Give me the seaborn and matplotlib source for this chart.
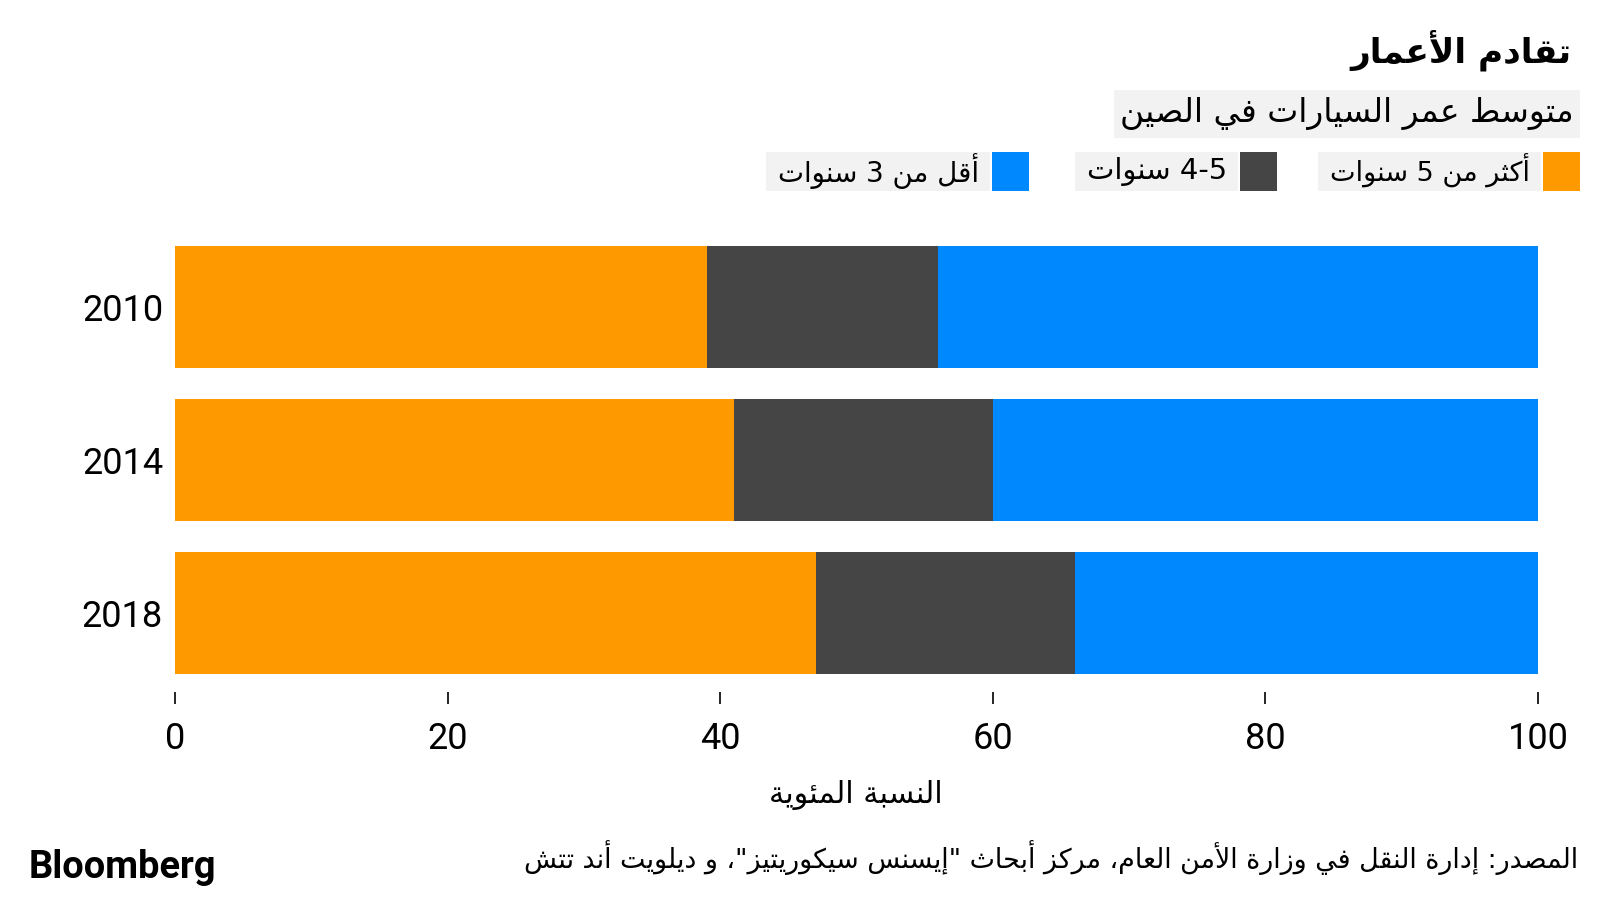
import re
import numpy as np
import pandas as pd
import matplotlib
matplotlib.use("Agg")
import matplotlib.pyplot as plt
import seaborn as sns
from matplotlib.patches import Rectangle

# ---------------- data ----------------
years = ["2010", "2014", "2018"]
over5 = [39, 41, 47]      # أكثر من 5 سنوات
mid4to5 = [17, 19, 19]    # 4-5 سنوات
under3 = [44, 40, 34]     # أقل من 3 سنوات
series_labels = ["أكثر من 5 سنوات", "4-5 سنوات", "أقل من 3 سنوات"]
series_colors = ["#FF9900", "#454545", "#0088FF"]
x_ticks = [0, 20, 40, 60, 80, 100]
title = "تقادم الأعمار"
subtitle = "متوسط عمر السيارات في الصين"
x_label = "النسبة المئوية"
source = 'المصدر: إدارة النقل في وزارة الأمن العام، مركز أبحاث "إيسنس سيكوريتيز"، و ديلويت أند تتش'
brand = "Bloomberg"

# ------------- minimal Arabic shaping + bidi (visual order) -------------
_DUAL = {0x0626: 0xFE89, 0x0628: 0xFE8F, 0x062A: 0xFE95, 0x062B: 0xFE99, 0x062C: 0xFE9D,
         0x062D: 0xFEA1, 0x062E: 0xFEA5, 0x0633: 0xFEB1, 0x0634: 0xFEB5, 0x0635: 0xFEB9,
         0x0636: 0xFEBD, 0x0637: 0xFEC1, 0x0638: 0xFEC5, 0x0639: 0xFEC9, 0x063A: 0xFECD,
         0x0641: 0xFED1, 0x0642: 0xFED5, 0x0643: 0xFED9, 0x0644: 0xFEDD, 0x0645: 0xFEE1,
         0x0646: 0xFEE5, 0x0647: 0xFEE9, 0x064A: 0xFEF1}
_RIGHT = {0x0622: 0xFE81, 0x0623: 0xFE83, 0x0624: 0xFE85, 0x0625: 0xFE87, 0x0627: 0xFE8D,
          0x0629: 0xFE93, 0x062F: 0xFEA9, 0x0630: 0xFEAB, 0x0631: 0xFEAD, 0x0632: 0xFEAF,
          0x0648: 0xFEED, 0x0649: 0xFEEF}
_LAM_ALEF = {0x0622: 0xFEF5, 0x0623: 0xFEF7, 0x0625: 0xFEF9, 0x0627: 0xFEFB}


def _jtype(item):
    if isinstance(item, tuple):
        return "R"
    c = ord(item)
    if c in _DUAL:
        return "D"
    if c in _RIGHT:
        return "R"
    return "U"


def shape_arabic(text):
    items = []
    i = 0
    while i < len(text):
        ch = text[i]
        if ord(ch) == 0x0644 and i + 1 < len(text) and ord(text[i + 1]) in _LAM_ALEF:
            items.append(("LA", _LAM_ALEF[ord(text[i + 1])]))
            i += 2
        else:
            items.append(ch)
            i += 1
    out = []
    for k, it in enumerate(items):
        t = _jtype(it)
        if t == "U":
            out.append(it)
            continue
        prev_j = k > 0 and _jtype(items[k - 1]) == "D"
        next_j = t == "D" and k + 1 < len(items) and _jtype(items[k + 1]) in ("D", "R")
        if isinstance(it, tuple):
            base = it[1]
        else:
            base = _DUAL.get(ord(it), _RIGHT.get(ord(it)))
        if t == "R":
            out.append(chr(base + (1 if prev_j else 0)))
        else:
            off = 3 if (prev_j and next_j) else 1 if prev_j else 2 if next_j else 0
            out.append(chr(base + off))
    return "".join(out)


def ar(text):
    s = shape_arabic(text)
    tokens = re.findall(r"[0-9A-Za-z]+(?:[-.][0-9A-Za-z]+)*|[^0-9A-Za-z]+", s)
    out = []
    for tok in reversed(tokens):
        if re.match(r"[0-9A-Za-z]", tok):
            out.append(tok)
        else:
            out.append(tok[::-1])
    return "".join(out)


# ---------------- figure ----------------
sns.set_theme(style="white")
plt.rcParams["font.family"] = ["DejaVu Sans"]

W, H = 1600, 900
fig = plt.figure(figsize=(16, 9), dpi=100)
fig.patch.set_facecolor("white")


def fx(x):
    return x / W


def fy(y):
    return 1 - y / H


ax_left, ax_right, ax_top, ax_bot = 175, 1538, 230, 692
ax = fig.add_axes([fx(ax_left), fy(ax_bot), (ax_right - ax_left) / W, (ax_bot - ax_top) / H])

df = pd.DataFrame({"year": years, "over5": over5, "mid": mid4to5, "under3": under3})
df["c1"] = df["over5"]
df["c2"] = df["over5"] + df["mid"]
df["c3"] = df["c2"] + df["under3"]

for col, color in [("c3", series_colors[2]), ("c2", series_colors[1]), ("c1", series_colors[0])]:
    sns.barplot(data=df, x=col, y="year", orient="h", color=color, saturation=1,
                width=0.8, linewidth=0, errorbar=None, ax=ax)

ax.set_xlim(0, 100)
ax.set_ylim(2.519, -0.506)
ax.set_xticks(x_ticks)
ax.set_xticklabels([str(v) for v in x_ticks], family=["Roboto", "DejaVu Sans"], fontsize=26)
ax.set_yticklabels(years, family=["Roboto", "DejaVu Sans"], fontsize=26)
ax.tick_params(axis="x", direction="out", length=8.6, width=1.2, color="black",
               pad=12, bottom=True, labelcolor="black")
ax.tick_params(axis="y", length=0, pad=8.6, labelcolor="black")
for s in ax.spines.values():
    s.set_visible(False)
ax.set_xlabel("")
ax.set_ylabel("")
ax.set_facecolor("none")
ax.grid(False)

renderer = fig.canvas.get_renderer()


def fit(t, target_w):
    w = t.get_window_extent(renderer).width
    t.set_fontsize(t.get_fontsize() * target_w / w)
    return t


def rect(x0, y0, x1, y1, color):
    fig.add_artist(Rectangle((fx(x0), fy(y1)), (x1 - x0) / W, (y1 - y0) / H,
                             transform=fig.transFigure, facecolor=color, edgecolor="none", zorder=0))


# title
t = fig.text(fx(1571), fy(50), ar(title), ha="right", va="center", fontsize=26,
             fontweight="bold", color="black")
fit(t, 221)

# subtitle with background
t = fig.text(fx(1574), fy(113), ar(subtitle), ha="right", va="center", fontsize=22, color="black")
fit(t, 452)
bb = t.get_window_extent(renderer)
rect(bb.x0 - 6, 90, 1580, 138, "#f2f2f2")

# legend
sq_left = [1543, 1240, 992]
txt_w = [200, 140, 201]
for lab, col, sl, tw in zip(series_labels, series_colors, sq_left, txt_w):
    rect(sl, 152, sl + 37, 191, col)
    bg_right = sl - 2
    t = fig.text(fx(bg_right - 11), fy(171), ar(lab), ha="right", va="center",
                 fontsize=18, color="black")
    fit(t, tw)
    bb = t.get_window_extent(renderer)
    rect(bb.x0 - 12, 152, bg_right, 191, "#f2f2f2")

# x label
t = fig.text(fx(856), fy(795), ar(x_label), ha="center", va="center", fontsize=18, color="black")
fit(t, 173)

# source
t = fig.text(fx(1578), fy(858), ar(source), ha="right", va="center", fontsize=16, color="black")
fit(t, 1056)

# brand
t = fig.text(fx(29), fy(878), brand, ha="left", va="baseline", fontsize=24,
             fontweight="bold", family=["Roboto", "DejaVu Sans"], color="black")
fit(t, 188)

fig.savefig("out.png", dpi=100, facecolor="white")
